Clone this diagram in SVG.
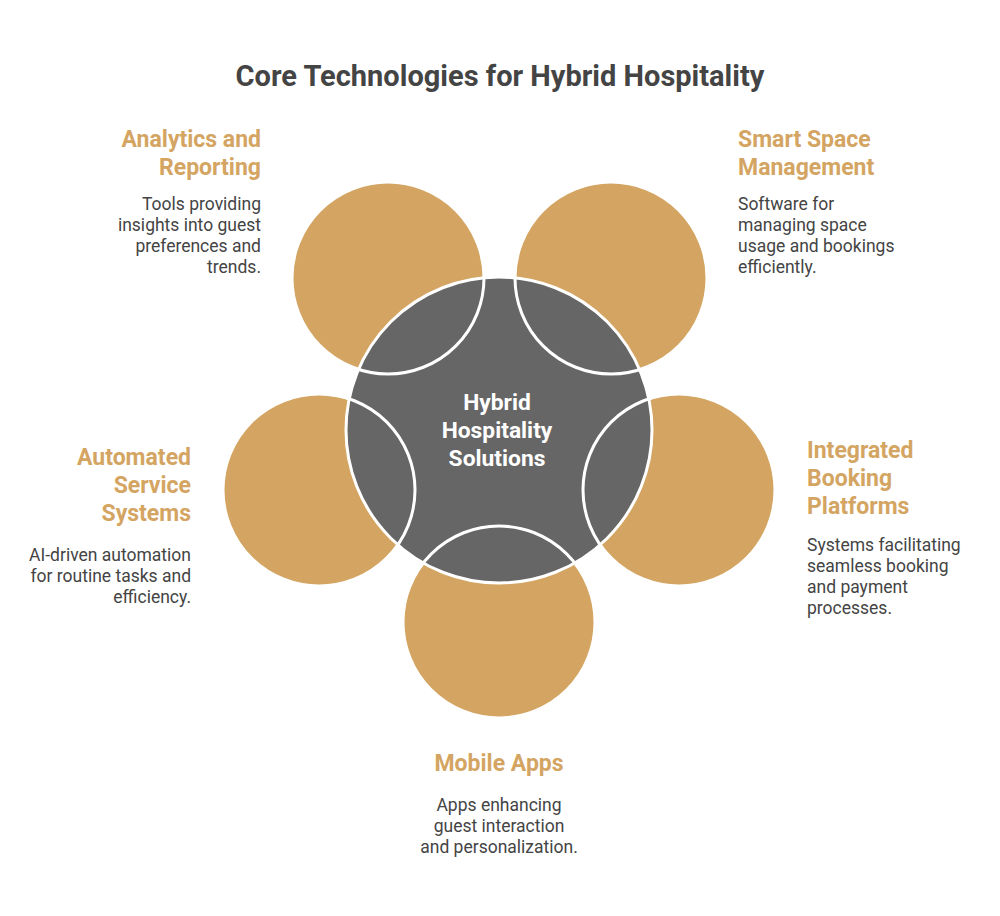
<svg xmlns="http://www.w3.org/2000/svg" width="1000" height="916" viewBox="0 0 1000 916">
<style>
.outer{fill:#D4A562;stroke:#fff;stroke-width:3}
.ring{fill:none;stroke:#fff;stroke-width:3}
.title{font-family:Roboto,"Liberation Sans",sans-serif;font-weight:bold;font-size:29px;fill:#444}
.lbl{font-family:Roboto,"Liberation Sans",sans-serif;font-weight:bold;font-size:23px;fill:#D4A562}
.body{font-family:Roboto,"Liberation Sans",sans-serif;font-size:17.5px;fill:#444}
.ctr{font-family:Roboto,"Liberation Sans",sans-serif;font-weight:bold;font-size:22.8px;fill:#fff}
</style>
<defs>
<clipPath id="cc"><circle cx="499" cy="430" r="153"/></clipPath>
</defs>
<rect width="1000" height="916" fill="#fff"/>
<text class="title" x="500" y="86" text-anchor="middle">Core Technologies for Hybrid Hospitality</text>
<g id="analytics">
<circle class="outer" cx="388" cy="278" r="96"/>
<text class="lbl" text-anchor="end" x="261"><tspan x="261" y="147">Analytics and</tspan><tspan x="261" y="175">Reporting</tspan></text>
<text class="body" text-anchor="end"><tspan x="261" y="210">Tools providing</tspan><tspan x="261" y="231">insights into guest</tspan><tspan x="261" y="252">preferences and</tspan><tspan x="261" y="273">trends.</tspan></text>
</g>
<g id="smart-space">
<circle class="outer" cx="611" cy="278" r="96"/>
<text class="lbl"><tspan x="738" y="147">Smart Space</tspan><tspan x="738" y="175">Management</tspan></text>
<text class="body"><tspan x="738" y="210">Software for</tspan><tspan x="738" y="231">managing space</tspan><tspan x="738" y="252">usage and bookings</tspan><tspan x="738" y="273">efficiently.</tspan></text>
</g>
<g id="booking">
<circle class="outer" cx="679" cy="490" r="96"/>
<text class="lbl"><tspan x="807" y="458">Integrated</tspan><tspan x="807" y="486">Booking</tspan><tspan x="807" y="514">Platforms</tspan></text>
<text class="body"><tspan x="807" y="551">Systems facilitating</tspan><tspan x="807" y="572">seamless booking</tspan><tspan x="807" y="593">and payment</tspan><tspan x="807" y="614">processes.</tspan></text>
</g>
<g id="mobile">
<circle class="outer" cx="499" cy="622" r="96"/>
<text class="lbl" text-anchor="middle"><tspan x="499" y="771">Mobile Apps</tspan></text>
<text class="body" text-anchor="middle"><tspan x="499" y="811">Apps enhancing</tspan><tspan x="499" y="832">guest interaction</tspan><tspan x="499" y="853">and personalization.</tspan></text>
</g>
<g id="automated">
<circle class="outer" cx="319" cy="490" r="96"/>
<text class="lbl" text-anchor="end"><tspan x="191" y="465">Automated</tspan><tspan x="191" y="493">Service</tspan><tspan x="191" y="521">Systems</tspan></text>
<text class="body" text-anchor="end"><tspan x="191" y="561">AI-driven automation</tspan><tspan x="191" y="582">for routine tasks and</tspan><tspan x="191" y="603">efficiency.</tspan></text>
</g>
<g id="center">
<circle cx="499" cy="430" r="153" fill="#666" stroke="#fff" stroke-width="3"/>
<g clip-path="url(#cc)">
<circle class="ring" cx="388" cy="278" r="96"/>
<circle class="ring" cx="611" cy="278" r="96"/>
<circle class="ring" cx="679" cy="490" r="96"/>
<circle class="ring" cx="499" cy="622" r="96"/>
<circle class="ring" cx="319" cy="490" r="96"/>
</g>
<text class="ctr" text-anchor="middle"><tspan x="497" y="410">Hybrid</tspan><tspan x="497" y="438">Hospitality</tspan><tspan x="497" y="466">Solutions</tspan></text>
</g>
</svg>
